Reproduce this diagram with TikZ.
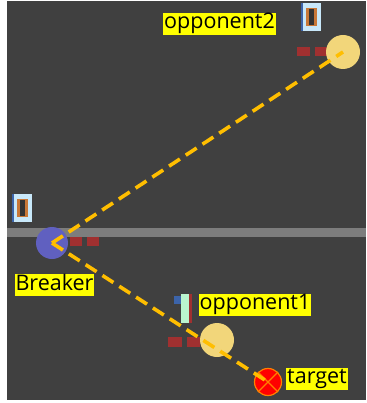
\documentclass[tikz,border=0pt]{standalone}
\usepackage{fontspec}
\setmainfont{Open Sans}
\definecolor{field}{RGB}{64,64,64}
\definecolor{midline}{RGB}{125,125,125}
\definecolor{breakerblue}{RGB}{96,96,192}
\definecolor{oppyellow}{RGB}{242,214,122}
\definecolor{markred}{RGB}{160,48,48}
\definecolor{pathorange}{RGB}{255,190,0}
\definecolor{tagyellow}{RGB}{255,255,0}
\definecolor{digitblue}{RGB}{200,232,250}
\definecolor{digitorange}{RGB}{200,120,56}
\definecolor{digitedge}{RGB}{60,100,170}
\tikzset{
  ball/.style={circle, inner sep=0pt, minimum size=#1},
  tag/.style={fill=tagyellow, text=black, inner xsep=1pt, inner ysep=0pt,
    text height=16pt, text depth=6pt, font=\fontsize{21.5}{21.5}\selectfont},
  guide/.style={draw=pathorange, line width=3.6pt, dash pattern=on 13pt off 7pt},
  heading/.style={fill=markred, draw=none},
}
% a pixel-style score digit "0"
\newcommand{\zerodigit}[2]{%
  \fill[digitedge] (#1,#2) rectangle ++(20,28);
  \fill[digitblue] (#1+2,#2) rectangle ++(18,28);
  \fill[digitorange] (#1+5,#2+5) rectangle ++(11,18);
  \fill[black!80] (#1+8,#2+6) rectangle ++(5,16);
}
\begin{document}
\begin{tikzpicture}[x=1pt,y=-1pt]
\useasboundingbox (0,0) rectangle (366,403);
\fill[white] (0,0) rectangle (366,403);
\fill[field] (7,1) rectangle (366,400);
% centre line
\fill[midline] (7,228) rectangle (366,237);

% heading marks
\fill[heading] (70,237) rectangle (82,246);
\fill[heading] (87,237) rectangle (99,246);
\fill[heading] (297,47) rectangle (310,56);
\fill[heading] (315,47) rectangle (328,56);
\fill[heading] (168,337) rectangle (182,347);
\fill[heading] (187,337) rectangle (200,347);

% players
\node[ball=32pt, fill=breakerblue] (breaker) at (52,243) {};
\node[ball=34pt, fill=oppyellow] (opp2) at (343,52) {};
\node[ball=34pt, fill=oppyellow] (opp1) at (217,340) {};

% target
\node[ball=27pt, fill=red, draw=orange, line width=1.2pt] (target) at (268,382) {};
\draw[orange, line width=1.2pt] (target.north west) -- (target.south east)
      (target.north east) -- (target.south west);

% pass lines
\draw[guide] (breaker.center) -- (opp2.center);
\draw[guide] (breaker.center) -- (target.center);

% score digits
\zerodigit{12}{194}
\zerodigit{301}{3}
\fill[digitedge] (174,296) rectangle (182,304);
\fill[digitblue!70!green!60!white] (181,294) rectangle (189,323);
\fill[markred] (189,294) rectangle (192,323);

% labels
\node[tag] (lopp2) at (219.5,24) {opponent2};
\node[tag] (lbreaker) at (54.5,285) {Breaker};
\node[tag] (lopp1) at (255,304.5) {opponent1};
\node[tag] (ltarget) at (317,378.5) {target};
\end{tikzpicture}
\end{document}
